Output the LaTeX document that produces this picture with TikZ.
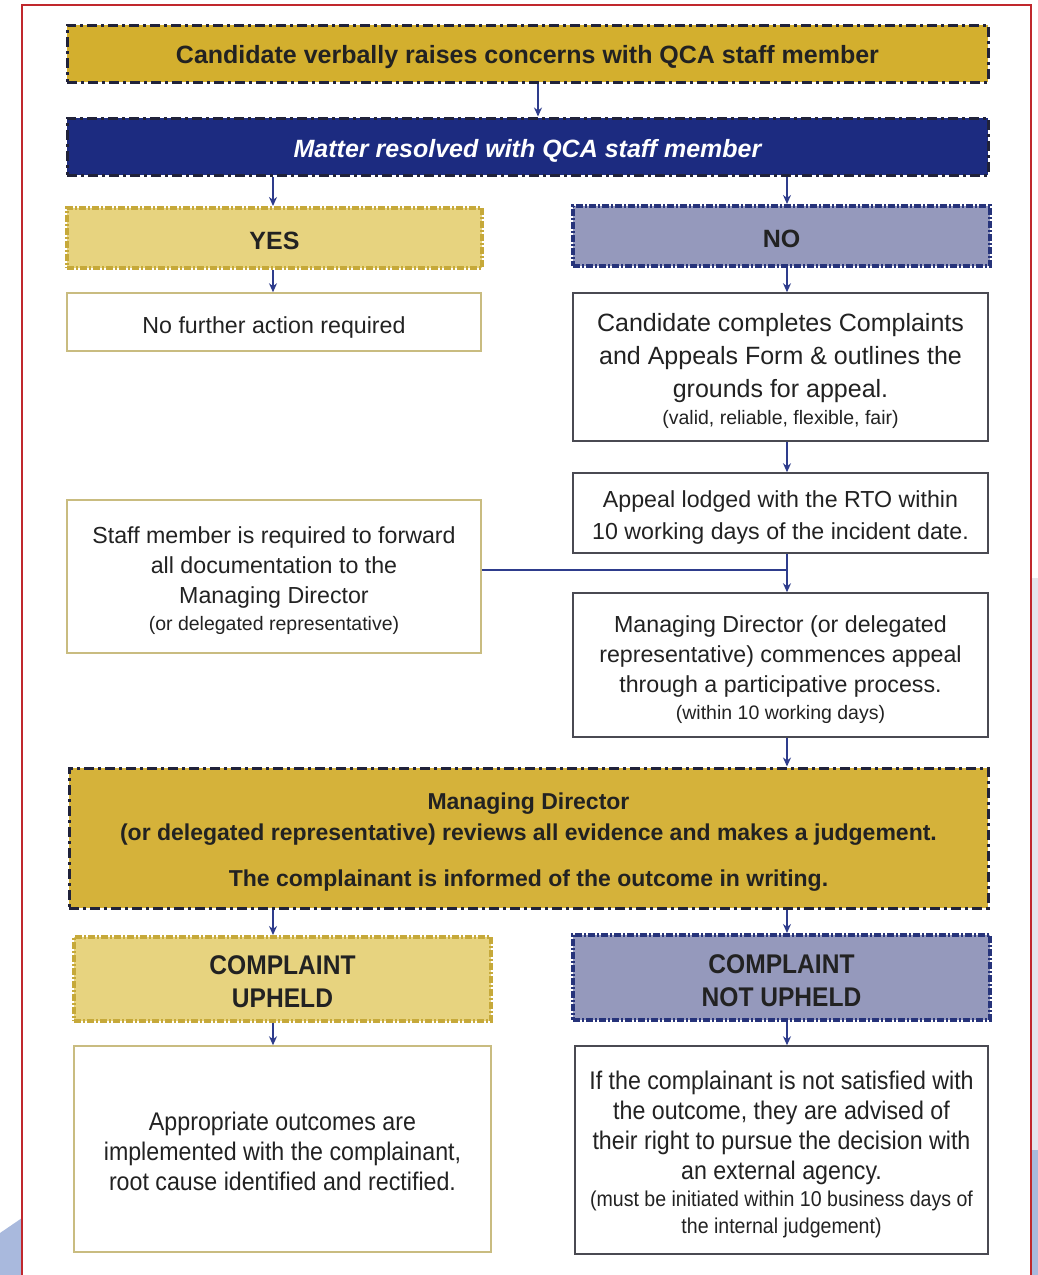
\documentclass[tikz,border=0pt]{standalone}
\usepackage{fontspec}
\setmainfont{Liberation Sans}
\newfontfamily\narrowfont[FakeStretch=0.91]{Liberation Sans}
\usetikzlibrary{arrows.meta}
\definecolor{gold}{HTML}{D3AF2E}
\definecolor{reviewgold}{HTML}{D5B23A}
\definecolor{deepnavy}{HTML}{1C2B80}
\definecolor{lightgold}{HTML}{E7D37F}
\definecolor{slate}{HTML}{9599BC}
\definecolor{goldborder}{HTML}{C6A93A}
\definecolor{navyborder}{HTML}{26337A}
\definecolor{darkline}{HTML}{20223A}
\definecolor{arrowblue}{HTML}{2E3C8C}
\definecolor{tan}{HTML}{C9BC80}
\definecolor{grayborder}{HTML}{4A4A52}
\definecolor{pagered}{HTML}{C0282D}
\definecolor{decoblue}{HTML}{A9B9DD}
\definecolor{decogray}{HTML}{E4E6EC}
\definecolor{txt}{HTML}{222222}
\tikzset{
  base/.style={rectangle, inner sep=0pt},
  label text/.style={inner sep=0pt, align=center, text=txt},
  golddash/.style={base, fill=gold, draw=darkline, line width=3pt,
     dash pattern=on 10pt off 4pt on 3pt off 4pt},
  navybox/.style={base, fill=deepnavy, draw=darkline, line width=3pt,
     dash pattern=on 10pt off 4pt on 3pt off 4pt},
  yesbox/.style={base, fill=lightgold, draw=goldborder, line width=4pt,
     dash pattern=on 7pt off 2pt on 2pt off 2pt},
  nobox/.style={base, fill=slate, draw=navyborder, line width=4pt,
     dash pattern=on 7pt off 2pt on 2pt off 2pt},
  tanbox/.style={base, fill=white, draw=tan, line width=1.5pt},
  graybox/.style={base, fill=white, draw=grayborder, line width=1.5pt},
  arr/.style={draw=arrowblue, line width=1.5pt, -{Stealth[length=9pt,width=8pt]}},
  conn/.style={draw=arrowblue, line width=1.5pt},
  boldtext/.style={label text, font=\fontsize{25}{31}\selectfont\bfseries},
  bodytext/.style={label text, font=\fontsize{23.2}{30}\selectfont},
  narrowbold/.style={label text, font=\narrowfont\fontsize{27}{33}\selectfont\bfseries},
  narrowbody/.style={label text, font=\narrowfont\fontsize{25.5}{30}\selectfont},
}
\newcommand{\smalltxt}{\fontsize{19.5}{27}\selectfont}
\newcommand{\smallnarrow}{\fontsize{21.5}{27}\selectfont}
\begin{document}
\begin{tikzpicture}[x=1pt, y=-1pt]
\useasboundingbox (0,0) rectangle (1038,1275);
% page decoration
\fill[decogray] (1032,578) rectangle (1038,1150);
\fill[decoblue] (1032,1150) rectangle (1038,1275);
\fill[decoblue] (0,1233) -- (22,1218) -- (22,1275) -- (0,1275) -- cycle;
\draw[pagered, line width=2pt] (22,1280) -- (22,5) -- (1031,5) -- (1031,1280);

% column coordinates
\coordinate (mid) at (538,0);
\coordinate (lc) at (273,0);
\coordinate (rc) at (787,0);

% boxes
\node[golddash, minimum width=921, minimum height=57] (top) at (527.5,53.5) {};
\fill[white!80!tan] (67,118) rectangle (988,175);
\node[navybox, minimum width=921, minimum height=57] (matter) at (527.5,146.5) {};
\node[yesbox, minimum width=415, minimum height=60] (yes) at (274.5,238) {};
\node[nobox, minimum width=417, minimum height=60] (no) at (781.5,236) {};
\node[tanbox, minimum width=414, minimum height=58] (nofurther) at (274,322) {};
\node[graybox, minimum width=415, minimum height=148] (complete) at (780.5,367) {};
\node[graybox, minimum width=415, minimum height=80] (lodged) at (780.5,513) {};
\node[tanbox, minimum width=414, minimum height=153] (staff) at (274,576.5) {};
\node[graybox, minimum width=415, minimum height=144] (commence) at (780.5,665) {};
\node[golddash, fill=reviewgold, minimum width=919, minimum height=140] (review) at (528.5,838) {};
\node[yesbox, minimum width=417, minimum height=84] (upheld) at (282.5,979) {};
\node[nobox, minimum width=417, minimum height=85] (notupheld) at (781.5,977.5) {};
\node[tanbox, minimum width=417, minimum height=206] (outcomes) at (282.5,1149) {};
\node[graybox, minimum width=413, minimum height=208] (external) at (781.5,1150) {};

% texts
\node[boldtext] (toptxt) at ([yshift=-4pt]top.center)
  {Candidate verbally raises concerns with QCA staff member};
\node[boldtext, text=white, font=\fontsize{25}{31}\selectfont\bfseries\itshape] (mattertxt) at ([yshift=-4pt]matter.center)
  {Matter resolved with QCA staff member};
\node[boldtext] (yestxt) at ([yshift=-3pt]yes.center) {YES};
\node[boldtext] (notxt) at ([yshift=-3pt]no.center) {NO};
\node[bodytext] (nofurthertxt) at ([yshift=-5pt]nofurther.center) {No further action required};
\node[label text, font=\fontsize{25}{33}\selectfont] (completetxt) at ([yshift=-4pt]complete.center)
  {Candidate completes Complaints\\and Appeals Form \& outlines the\\grounds for appeal.\\[-6pt]{\smalltxt(valid, reliable, flexible, fair)}};
\node[bodytext, font=\fontsize{23.2}{32}\selectfont] (lodgedtxt) at ([yshift=-4pt]lodged.center)
  {Appeal lodged with the RTO within\\10 working days of the incident date.};
\node[bodytext] (stafftxt) at ([yshift=-4pt]staff.center)
  {Staff member is required to forward\\all documentation to the\\Managing Director\\[-3pt]{\smalltxt(or delegated representative)}};
\node[bodytext] (commencetxt) at ([yshift=-5pt]commence.center)
  {Managing Director (or delegated\\representative) commences appeal\\through a participative process.\\[-3pt]{\smalltxt(within 10 working days)}};
\node[boldtext, font=\fontsize{23}{31}\selectfont\bfseries] (reviewtxt) at ([yshift=-4pt]review.center)
  {Managing Director\\(or delegated representative) reviews all evidence and makes a judgement.\\[15pt]The complainant is informed of the outcome in writing.};
\node[narrowbold] (upheldtxt) at ([yshift=-3pt]upheld.center) {COMPLAINT\\UPHELD};
\node[narrowbold] (notupheldtxt) at ([yshift=-3pt]notupheld.center) {COMPLAINT\\NOT UPHELD};
\node[narrowbody] (outcomestxt) at ([yshift=-2pt]outcomes.center)
  {Appropriate outcomes are\\implemented with the complainant,\\root cause identified and rectified.};
\node[narrowbody] (externaltxt) at ([yshift=-4pt]external.center)
  {If the complainant is not satisfied with\\the outcome, they are advised of\\their right to pursue the decision with\\an external agency.\\[-3pt]{\smallnarrow(must be initiated within 10 business days of}\\[-3pt]{\smallnarrow the internal judgement)}};

% connectors
\draw[arr] (top.south -| mid) -- (matter.north -| mid);
\draw[arr] (matter.south -| lc) -- (yes.north -| lc);
\draw[arr] (matter.south -| rc) -- (no.north -| rc);
\draw[arr] (yes.south -| lc) -- (nofurther.north -| lc);
\draw[arr] (no.south -| rc) -- (complete.north -| rc);
\draw[arr] (complete.south -| rc) -- (lodged.north -| rc);
\coordinate (join) at (787,570);
\draw[arr] (lodged.south -| rc) -- (commence.north -| rc);
\draw[conn] (staff.east |- join) -- (join);
\draw[arr] (commence.south -| rc) -- (review.north -| rc);
\draw[arr] (review.south -| lc) -- (upheld.north -| lc);
\draw[arr] (review.south -| rc) -- (notupheld.north -| rc);
\draw[arr] (upheld.south -| lc) -- (outcomes.north -| lc);
\draw[arr] (notupheld.south -| rc) -- (external.north -| rc);
\end{tikzpicture}
\end{document}
